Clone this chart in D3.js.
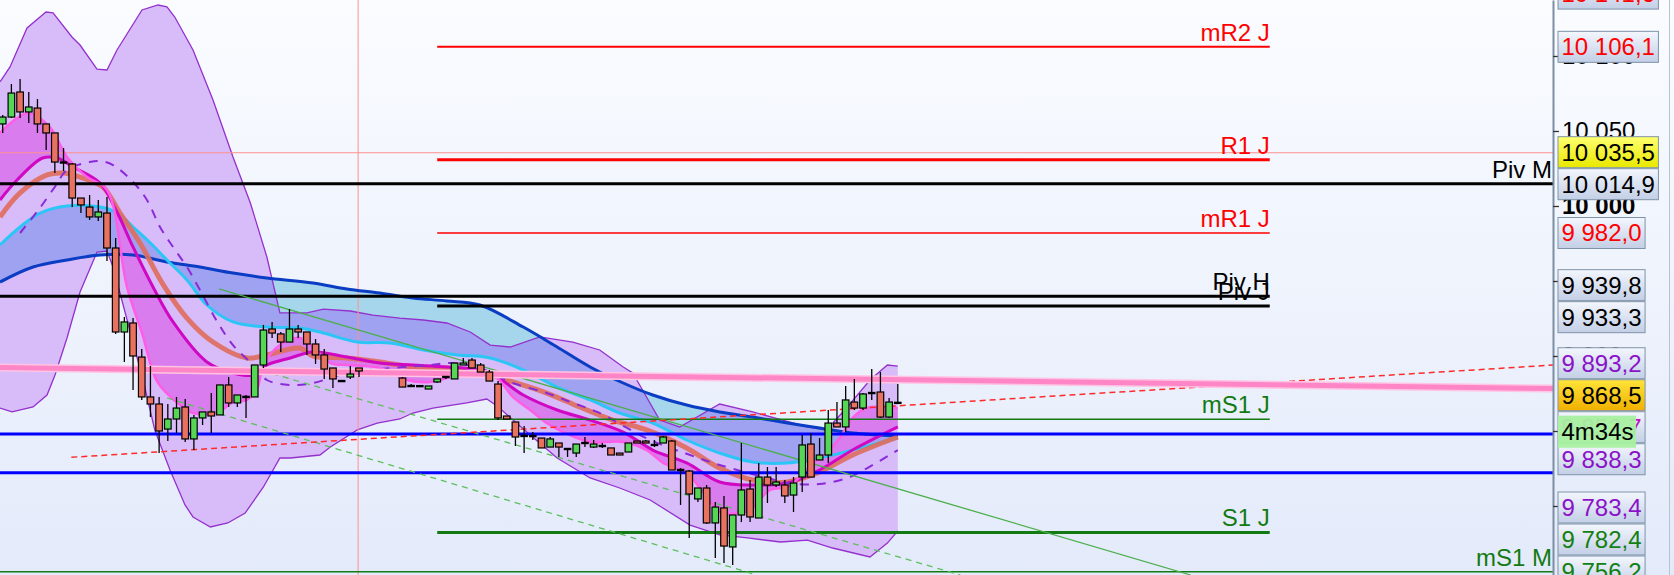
<!DOCTYPE html>
<html><head><meta charset="utf-8">
<script src="https://cdn.jsdelivr.net/npm/d3@7"></script>
<style>html,body{margin:0;padding:0;overflow:hidden;background:#fff}svg{display:block}</style>
</head><body><svg id="c" width="1674" height="575"></svg>
<script>
// ---------------- DATA ----------------
const opens  = [10054.7,10059.3,10076.0,10062.7,10065.3,10054.7,10048.7,10029.3,10028.0,10005.3,9999.3,9992.7,9995.3,9972.0,9916.0,9922.0,9899.3,9872.7,9868.0,9851.3,9858.0,9866.0,9844.7,9858.7,9862.7,9860.7,9880.7,9868.7,9872.7,9872.7,9894.0,9918.0,9914.7,9909.3,9918.0,9916.0,9908.0,9900.7,9892.0,9883.3,9886.0,9892.0,null,null,null,null,9885.3,9880.0,9880.0,9878.0,9882.7,9886.0,9884.7,9894.0,9897.3,9894.0,9889.3,9881.3,9860.0,9856.0,9846.7,9846.7,9845.3,9839.3,9842.0,9838.0,9835.3,9842.0,9839.3,9840.0,9838.7,9835.3,9836.0,9843.3,9843.3,9840.7,9842.0,9843.3,9824.0,9823.3,9804.7,9812.0,9788.7,9798.7,9772.7,9794.0,9811.3,9792.0,9819.3,9814.0,9814.0,9807.3,9819.3,9841.3,9830.7,9834.0,9855.3,9852.7,9869.3,9865.3,9875.3,9876.0,9859.3,9869.0];
const highs  = [10060.7,10081.3,10084.7,10076.0,10071.3,10054.7,10048.7,10038.7,10028.7,10005.3,10007.3,10004.0,10006.0,9978.7,9926.0,9925.3,9904.7,9893.3,9872.7,9868.0,9872.7,9871.3,9860.7,9862.7,9875.3,9880.7,9886.0,9874.0,9874.0,9894.0,9920.7,9922.7,9916.0,9931.3,9920.7,9916.0,9911.3,9904.7,9892.0,9884.0,9893.3,9892.0,null,null,null,null,9886.0,9881.3,9880.2,9880.0,9884.7,9886.7,9895.3,9898.7,9898.7,9895.3,9890.7,9883.3,9860.0,9856.0,9853.3,9849.3,9845.3,9846.0,9842.0,9838.0,9841.3,9846.0,9844.0,9842.0,9838.7,9835.3,9842.0,9843.3,9844.0,9844.0,9846.7,9844.0,9825.3,9824.0,9812.0,9814.0,9802.7,9806.7,9794.0,9842.0,9817.3,9828.7,9826.0,9826.0,9817.3,9819.3,9847.3,9848.7,9845.3,9864.0,9869.3,9880.0,9884.7,9875.3,9891.3,9889.3,9872.0,9881.3];
const lows   = [10048.7,10058.7,10058.7,10055.3,10048.7,10037.3,10022.0,10023.3,9999.3,9995.3,9990.7,9990.0,9963.3,9914.7,9896.0,9877.3,9870.7,9859.3,9835.3,9843.3,9848.7,9842.7,9837.3,9854.0,9848.7,9860.7,9866.0,9866.0,9858.7,9872.7,9892.0,9912.0,9902.7,9909.3,9912.0,9900.7,9894.7,9884.7,9878.7,9882.7,9884.7,9886.0,null,null,null,null,9879.3,9879.3,9879.6,9878.0,9882.0,9884.7,9884.7,9894.0,9892.0,9889.3,9883.3,9857.3,9858.0,9840.0,9835.3,9844.0,9838.7,9839.3,9832.7,9832.7,9832.7,9839.3,9838.7,9838.7,9834.0,9834.0,9836.0,9842.0,9842.0,9839.3,9842.0,9824.0,9800.7,9778.7,9802.7,9788.0,9765.3,9762.0,9760.7,9789.3,9789.3,9792.0,9802.0,9812.7,9802.0,9796.0,9809.3,9819.3,9830.7,9828.7,9852.7,9849.3,9864.0,9864.0,9870.7,9858.7,9858.7,9868.5];
const closes = [10059.3,10075.3,10062.7,10066.0,10054.7,10048.7,10029.3,10028.7,10005.3,10000.7,9992.7,9996.0,9972.0,9916.0,9922.7,9900.0,9872.7,9868.0,9850.0,9858.0,9865.3,9844.7,9858.7,9862.7,9860.0,9880.7,9868.7,9874.0,9872.7,9894.0,9917.3,9915.3,9909.3,9918.0,9916.0,9908.0,9900.7,9891.3,9884.7,9883.3,9888.0,9890.0,null,null,null,null,9879.3,9880.0,9879.8,9880.0,9884.7,9886.0,9895.3,9895.3,9892.0,9889.3,9883.3,9858.7,9858.0,9846.0,9846.7,9846.5,9838.7,9844.7,9839.3,9838.0,9841.3,9842.0,9841.3,9840.0,9834.0,9834.0,9842.0,9842.0,9842.0,9840.7,9846.0,9824.0,9824.0,9808.0,9812.0,9788.7,9799.3,9773.3,9794.0,9810.7,9792.7,9819.3,9814.0,9816.0,9806.7,9815.3,9840.7,9819.3,9834.0,9855.3,9852.7,9870.7,9865.3,9874.7,9875.3,9859.3,9869.3,9868.5];

// indicator knots: [bar index, price]
const upperBand = [[-0.31,10082.7],[0.84,10092.7],[2.8,10118.7],[4.98,10129.3],[5.79,10128.7],[7.97,10112.7],[8.9,10107.3],[10.85,10091.3],[12.0,10090.7],[13.15,10104.0],[16.03,10130.7],[17.87,10134.0],[18.9,10132.7],[19.8,10126.0],[21.9,10104.0],[24.2,10070.7],[26.5,10032.7],[28.5,10002.0],[30.4,9966.0],[31.9,9928.7],[35.0,9928.7],[36.9,9931.3],[40.0,9930.0],[42.6,9927.3],[45.7,9925.3],[48.4,9924.0],[51.1,9922.0],[53.8,9916.0],[56.1,9907.3],[58.4,9906.0],[61.8,9912.7],[65.6,9909.3],[68.7,9904.0],[71.4,9892.7],[72.5,9888.7],[75.6,9857.3],[77.9,9852.7],[82.5,9868.0],[86.3,9862.7],[92.6,9852.7],[94.8,9850.7],[97.2,9866.0],[99.8,9884.0],[101.8,9894.0],[103,9893.2]];
const lowerBand = [[-0.31,9865.3],[1.07,9862.7],[3.49,9866.0],[5.1,9874.0],[6.02,9887.3],[7.4,9912.0],[8.9,9942.7],[10.85,9969.3],[12.0,9970.0],[12.7,9959.3],[16.15,9884.0],[17.5,9850.7],[19.25,9824.0],[20.98,9800.7],[21.9,9792.7],[23.9,9786.0],[25.9,9788.7],[27.9,9795.3],[30.0,9812.7],[31.9,9832.0],[33.1,9832.0],[36.5,9834.0],[37.7,9839.3],[40.8,9850.7],[43.1,9855.3],[45.7,9858.0],[47.2,9862.0],[49.5,9865.3],[53.4,9868.7],[55.7,9871.3],[56.9,9866.7],[60.3,9849.3],[63.8,9832.0],[67.6,9818.7],[71.0,9812.0],[74.5,9804.0],[79.1,9787.3],[82.5,9780.7],[85.7,9778.7],[89.5,9776.0],[92.6,9777.3],[95.5,9772.0],[99.8,9766.0],[101.8,9775.3],[103,9783.4]];
const blueMA = [[-0.31,9949.3],[3.49,9959.3],[7.4,9964.0],[11.2,9967.3],[15.0,9967.3],[18.9,9962.7],[22.7,9959.3],[26.5,9955.3],[30.4,9952.0],[35.7,9948.7],[39.6,9944.7],[43.4,9942.0],[47.2,9938.7],[51.1,9936.7],[54.9,9934.0],[59.9,9919.3],[63.8,9906.0],[67.6,9892.7],[71.4,9882.0],[74.8,9874.0],[78.7,9867.3],[82.5,9862.7],[86.3,9859.3],[90.3,9855.3],[94.0,9852.0],[97.8,9848.7],[103,9846.7]];
const cyanMA = [[-0.31,9974.0],[2.0,9986.0],[4.3,9995.3],[7.4,10000.0],[11.2,9999.3],[13.2,9995.3],[15.0,9986.0],[17.0,9975.3],[18.9,9964.0],[21.2,9950.7],[23.5,9934.0],[26.5,9922.7],[30.4,9919.3],[34.2,9918.7],[36.9,9915.3],[40.8,9909.3],[44.6,9908.7],[48.4,9904.0],[52.3,9900.7],[56.1,9898.7],[59.9,9890.7],[63.8,9879.3],[67.6,9870.7],[71.0,9862.0],[74.8,9855.3],[78.7,9844.0],[82.5,9835.3],[86.3,9829.3],[90.3,9828.7],[94.0,9832.0],[97.8,9837.3],[103,9845.3]];
const salmonMA = [[-0.31,9992.7],[2.0,10008.7],[5.1,10020.7],[6.9,10022.0],[8.9,10019.3],[11.5,10012.7],[13.5,9995.3],[15.8,9975.3],[18.5,9947.3],[21.2,9925.3],[24.2,9909.3],[28.1,9898.7],[30.4,9900.7],[34.2,9905.3],[35.7,9900.0],[39.6,9898.7],[43.4,9896.0],[47.2,9892.7],[51.1,9892.0],[54.9,9889.3],[58.7,9882.7],[62.6,9875.3],[66.4,9866.0],[70.2,9857.3],[74.1,9850.7],[78.7,9838.7],[82.5,9825.3],[86.3,9817.3],[90.3,9816.0],[94.0,9822.7],[97.8,9834.0],[103,9846.0]];
const magentaMA = [[-0.31,10004.0],[1.65,10017.3],[4.6,10032.0],[6.25,10032.0],[8.1,10026.0],[11.2,10015.3],[13.2,9995.3],[15.0,9972.7],[17.3,9946.0],[19.6,9922.7],[23.5,9896.0],[26.5,9888.7],[28.8,9887.3],[30.4,9894.0],[33.1,9898.7],[35.7,9902.7],[39.6,9899.3],[43.4,9895.3],[47.2,9894.0],[51.1,9892.7],[54.9,9890.7],[56.9,9886.0],[59.9,9874.0],[63.8,9864.0],[67.6,9857.3],[71.4,9849.3],[74.8,9837.3],[78.7,9828.7],[82.5,9816.0],[86.3,9814.0],[90.3,9815.3],[94.0,9824.0],[97.8,9837.3],[103,9852.7]];
const pinkMA = [[-0.31,10048.7],[2.9,10062.0],[5.4,10052.7],[7.4,10032.7],[9.7,10019.3],[12.0,10010.7],[14.3,9946.0],[16.1,9914.0],[17.8,9882.7],[20.4,9867.3],[21.9,9862.0],[24.7,9862.0],[26.5,9869.3],[28.1,9870.7],[29.3,9878.7],[30.0,9894.0],[31.9,9907.3],[34.2,9912.0],[35.7,9906.0],[37.7,9895.3],[39.6,9894.0],[43.4,9892.0],[46.5,9884.0],[49.2,9882.7],[51.1,9885.3],[53.0,9889.3],[54.9,9890.7],[56.9,9885.3],[58.7,9872.7],[60.7,9864.0],[62.6,9855.3],[64.5,9849.3],[67.6,9842.7],[71.4,9842.7],[74.1,9837.3],[76.0,9828.7],[78.7,9822.0],[81.0,9806.0],[82.5,9796.0],[84.8,9795.3],[86.0,9797.3],[88.3,9810.7],[90.3,9812.7],[91.7,9819.3],[93.2,9828.7],[94.8,9835.3],[96.3,9845.3],[97.8,9858.7],[99.4,9865.3],[103,9865.3]];
const dashedMA = [[2.0,9982.0],[4.1,9997.3],[6.0,10012.7],[7.4,10024.0],[10.0,10029.3],[11.2,10030.0],[12.7,10027.3],[15.0,10016.0],[16.6,10004.0],[18.1,9986.0],[19.6,9972.7],[21.2,9959.3],[22.7,9944.0],[24.7,9922.7],[26.5,9907.3],[28.8,9894.0],[30.4,9884.0],[33.1,9880.7],[35.7,9882.0],[39.6,9888.7],[43.4,9891.3],[49.2,9894.0],[51.8,9895.3],[54.9,9892.0],[58.7,9882.0],[62.6,9875.3],[65.6,9868.7],[68.4,9862.7],[74.5,9844.0],[79.1,9834.0],[82.5,9827.3],[88.0,9818.7],[90.3,9815.3],[94.0,9814.7],[97.2,9818.7],[99.5,9825.3],[103,9837.3]];

// trend lines: [index0, price0, index1, price1]
const pinkTrend = [-0.31, 9892.3, 178.4, 9878.3];
const redDashTrend = [7.9, 9832.5, 178.4, 9894.0];
const greenTrend = [24.9, 9944.7, 136.7, 9754.0];
const greenDashA = [18.9, 9872.0, 86.8, 9754.0];
const greenDashB = [29.8, 9890.3, 110.2, 9754.0];

// pivot levels
const dayPivotNames = ["mR2 J", "R1 J", "mR1 J", "Piv J", "mS1 J", "S1 J"];
const dayPivotValues = [10106.1, 10030.9, 9982.0, 9933.3, 9857.8, 9782.4];
const hourPivotNames = ["Piv H"];
const hourPivotValues = [9939.8];
const monthPivotNames = ["Piv M", "mS1 M"];
const monthPivotValues = [10014.9, 9756.2];
const blueLevels = [9848.0, 9822.2];
const daySessionStart = 50, labelEndIndex = 145.8;
const crossIndex = 40.9, crossPrice = 10035.5;

const tickValues = [10100, 10050, 10000, 9950, 9900, 9850, 9800];
const axisLabelValues = [10141.6, 10106.1, 10035.5, 10014.9, 9982.0, 9939.8, 9933.3, 9893.2, 9868.5, 9852.7, 9838.3, 9783.4, 9782.4, 9756.2];
const axisLabelKinds  = ["red","red","cross","black","red","black","black","purple","price","magenta","purple","purple","green","green"];
const timerText = "4m34s";

// ---------------- DRAW ----------------
const W = 1674, H = 575, axisX = 1553;
const FONT = "'Liberation Sans', Arial, sans-serif";
const x = d3.scaleLinear().domain([0, 103]).range([2.7, 897.8]);
const y = d3.scaleLinear().domain([9754, 10137.33]).range([575, 0]);
const loc = d3.formatLocale({decimal: ",", thousands: " ", grouping: [3], currency: ["", ""]});
const f0 = loc.format(",.0f"), f1 = loc.format(",.1f");

const svg = d3.select("#c");
const defs = svg.append("defs");
function vgrad(id, c0, c1) {
  const g = defs.append("linearGradient").attr("id", id).attr("x1", 0).attr("y1", 0).attr("x2", 0).attr("y2", 1);
  g.append("stop").attr("offset", 0).attr("stop-color", c0);
  g.append("stop").attr("offset", 1).attr("stop-color", c1);
}
vgrad("bg", "#fafcff", "#e3eafa");
vgrad("boxg", "#f3f6fd", "#c3cfe6");
vgrad("crossg", "#ffff70", "#e8e800");
vgrad("priceg", "#ffe43a", "#f0b000");

svg.append("rect").attr("width", W).attr("height", H).attr("fill", "url(#bg)");

const lin = d3.line().x(d => x(d[0])).y(d => y(d[1]));
const smooth = d3.line().x(d => x(d[0])).y(d => y(d[1])).curve(d3.curveCatmullRom.alpha(0.5));
function between(A, B, gen) {
  return gen(A) + "L" + gen(B.slice().reverse()).slice(1) + "Z";
}
const bandPath = between(upperBand, lowerBand, lin);

defs.append("clipPath").attr("id", "plotclip").append("rect").attr("x", 0).attr("y", 0).attr("width", axisX).attr("height", H);
defs.append("clipPath").attr("id", "bandclip").append("path").attr("d", bandPath);

const plot = svg.append("g").attr("clip-path", "url(#plotclip)");

// band fill
plot.append("path").attr("d", bandPath).attr("fill", "#d8bcfa");
// blue / cyan cloud
const bc = between(blueMA, cyanMA, smooth);
plot.append("path").attr("d", bc).attr("fill", "#a6d6ec");
plot.append("g").attr("clip-path", "url(#bandclip)").append("path").attr("d", bc).attr("fill", "#9ea2f0");
// pink / magenta fill
plot.append("path").attr("d", between(pinkMA, magentaMA, smooth)).attr("fill", "#d87cee");
// band edges
[upperBand, lowerBand].forEach(b => plot.append("path").attr("d", lin(b)).attr("fill", "none").attr("stroke", "#9430cc").attr("stroke-width", 1.3));

// crosshair
plot.append("line").attr("x1", x(crossIndex)).attr("x2", x(crossIndex)).attr("y1", 0).attr("y2", H).attr("stroke", "#ff9090").attr("stroke-width", 1);
plot.append("line").attr("x1", 0).attr("x2", axisX).attr("y1", y(crossPrice)).attr("y2", y(crossPrice)).attr("stroke", "#ff9090").attr("stroke-width", 1);

// moving averages
function maLine(data, color, width, dash, op) {
  const p = plot.append("path").attr("d", smooth(data)).attr("fill", "none").attr("stroke", color)
    .attr("stroke-width", width).attr("stroke-linejoin", "round").attr("opacity", op || 1);
  if (dash) p.attr("stroke-dasharray", dash);
}
maLine(blueMA, "#0a3cc4", 3);
maLine(cyanMA, "#2cc6f6", 3);
maLine(salmonMA, "#de6e5e", 5, null, 0.92);
maLine(magentaMA, "#d008c4", 3);
maLine(dashedMA, "#8a2ad8", 2, "9,8");
maLine(pinkMA, "#ff5ce8", 2.5);

// level lines
const levelStyle = {
  "mR2 J": {c: "#ff0000", w: 2}, "R1 J": {c: "#ff0000", w: 3}, "mR1 J": {c: "#ff0000", w: 1.5},
  "Piv J": {c: "#000000", w: 3}, "mS1 J": {c: "#137a13", w: 1.5}, "S1 J": {c: "#137a13", w: 3},
  "Piv H": {c: "#000000", w: 3}, "Piv M": {c: "#000000", w: 3}, "mS1 M": {c: "#137a13", w: 1.5}
};
const labelLayer = [];
dayPivotNames.forEach((n, k) => {
  const s = levelStyle[n], yy = y(dayPivotValues[k]);
  plot.append("line").attr("x1", x(daySessionStart)).attr("x2", x(labelEndIndex)).attr("y1", yy).attr("y2", yy).attr("stroke", s.c).attr("stroke-width", s.w);
  labelLayer.push({t: n, x: x(labelEndIndex), y: yy, c: s.c});
});
hourPivotNames.forEach((n, k) => {
  const s = levelStyle[n], yy = y(hourPivotValues[k]);
  plot.append("line").attr("x1", 0).attr("x2", x(labelEndIndex)).attr("y1", yy).attr("y2", yy).attr("stroke", s.c).attr("stroke-width", s.w);
  labelLayer.push({t: n, x: x(labelEndIndex), y: yy, c: s.c});
});
monthPivotNames.forEach((n, k) => {
  const s = levelStyle[n], yy = y(monthPivotValues[k]);
  plot.append("line").attr("x1", 0).attr("x2", axisX).attr("y1", yy).attr("y2", yy).attr("stroke", s.c).attr("stroke-width", s.w);
  labelLayer.push({t: n, x: axisX - 1, y: yy, c: s.c});
});
blueLevels.forEach(v => plot.append("line").attr("x1", 0).attr("x2", axisX).attr("y1", y(v)).attr("y2", y(v)).attr("stroke", "#0000ff").attr("stroke-width", 3));

// trend lines
function trend(t, color, width, dash, op) {
  const p = plot.append("line").attr("x1", x(t[0])).attr("y1", y(t[1])).attr("x2", x(t[2])).attr("y2", y(t[3]))
    .attr("stroke", color).attr("stroke-width", width).attr("opacity", op || 1);
  if (dash) p.attr("stroke-dasharray", dash);
}
trend(greenTrend, "#4caf4c", 1.3);
trend(greenDashA, "#5cbf5c", 1.3, "6,5");
trend(greenDashB, "#5cbf5c", 1.3, "6,5");
trend(redDashTrend, "#ff2a2a", 1.5, "6,4");
trend(pinkTrend, "#ffc4e4", 8);
trend(pinkTrend, "#ff86c6", 5);

// candles
const bodyW = 6.6;
const cg = plot.append("g");
opens.forEach((o, i) => {
  if (o === null) return;
  const h = highs[i], l = lows[i], c = closes[i], cx = x(i);
  cg.append("line").attr("x1", cx).attr("x2", cx).attr("y1", y(h)).attr("y2", y(l)).attr("stroke", "#000").attr("stroke-width", 1.3);
  const top = y(Math.max(o, c)), bot = y(Math.min(o, c));
  if (bot - top < 1.6) {
    cg.append("line").attr("x1", cx - bodyW / 2 - 0.5).attr("x2", cx + bodyW / 2 + 0.5).attr("y1", (top + bot) / 2).attr("y2", (top + bot) / 2).attr("stroke", "#000").attr("stroke-width", 2.4);
  } else {
    cg.append("rect").attr("x", cx - bodyW / 2).attr("y", top).attr("width", bodyW).attr("height", bot - top)
      .attr("fill", c >= o ? "#55d655" : "#e8725f").attr("stroke", "#000").attr("stroke-width", 1.2);
  }
});

// level texts
labelLayer.forEach(d => plot.append("text").attr("x", d.x).attr("y", d.y - 6).attr("text-anchor", "end")
  .attr("font-family", FONT).attr("font-size", 24).attr("fill", d.c).text(d.t));

// axis
const ax = svg.append("g").attr("transform", `translate(${axisX},0)`)
  .call(d3.axisRight(y).tickValues(tickValues).tickFormat(f0).tickSize(6).tickPadding(3).tickSizeOuter(0));
ax.select(".domain").attr("stroke", "#7d8ea3").attr("stroke-width", 2);
ax.selectAll(".tick line").attr("stroke", "#333").attr("stroke-width", 1.3);
ax.selectAll(".tick text").attr("font-family", FONT).attr("font-size", 24).attr("fill", "#000")
  .attr("font-weight", d => d === 10000 ? "bold" : "normal");
svg.append("line").attr("x1", 1669.5).attr("x2", 1669.5).attr("y1", 0).attr("y2", H).attr("stroke", "#b8c3d0").attr("stroke-width", 1);

// axis value boxes with overlap resolution
const BH = 32;
const items = axisLabelValues.map((v, k) => ({v, kind: axisLabelKinds[k], want: y(v)})).sort((a, b) => a.want - b.want);
let groups = items.map(d => ({m: [d]}));
groups.forEach(g => g.c = g.m[0].want);
let changed = true;
while (changed) {
  changed = false;
  for (let k = 0; k < groups.length - 1; k++) {
    const a = groups[k], b = groups[k + 1];
    if (a.c + a.m.length * BH / 2 > b.c - b.m.length * BH / 2) {
      const m = a.m.concat(b.m);
      groups.splice(k, 2, {m, c: d3.mean(m, d => d.want)});
      changed = true; break;
    }
  }
}
groups.forEach(g => {
  let top = g.c - g.m.length * BH / 2;
  const lastC = top + BH / 2 + (g.m.length - 1) * BH;
  if (g.m.length > 1 && lastC > H - 3.5) top -= lastC - (H - 3.5);
  g.m.forEach((d, k) => d.yc = top + BH / 2 + k * BH);
});

const textColor = {red: "#ff0000", black: "#000000", cross: "#000000", price: "#000000", purple: "#8a12c8", magenta: "#c010c0", green: "#128012"};
const boxFill = {cross: "url(#crossg)", price: "url(#priceg)"};
const boxes = svg.append("g");
function drawBox(yc, text, color, fill, stroke) {
  const g = boxes.append("g");
  const r = g.append("rect").attr("x", 1558).attr("y", yc - 15.5).attr("height", 31).attr("fill", fill).attr("stroke", stroke).attr("stroke-width", 1);
  const t = g.append("text").attr("x", 1561.5).attr("y", yc + 8.5).attr("font-family", FONT).attr("font-size", 24).attr("fill", color).text(text);
  r.attr("width", t.node().getComputedTextLength() + 7);
  return yc;
}
let priceY = null;
items.forEach(d => {
  drawBox(d.yc, f1(d.v), textColor[d.kind], boxFill[d.kind] || "url(#boxg)", "#7f93a8");
  if (d.kind === "price") priceY = d.yc;
});
// countdown timer box
const tg = boxes.append("g");
const tr = tg.append("rect").attr("x", 1558).attr("y", priceY + 20.5).attr("height", 32).attr("fill", "#a8f0a0").attr("opacity", 0.95);
const tt = tg.append("text").attr("x", 1561.5).attr("y", priceY + 45).attr("font-family", FONT).attr("font-size", 24).attr("fill", "#000").text(timerText);
tr.attr("width", tt.node().getComputedTextLength() + 6);
</script></body></html>
